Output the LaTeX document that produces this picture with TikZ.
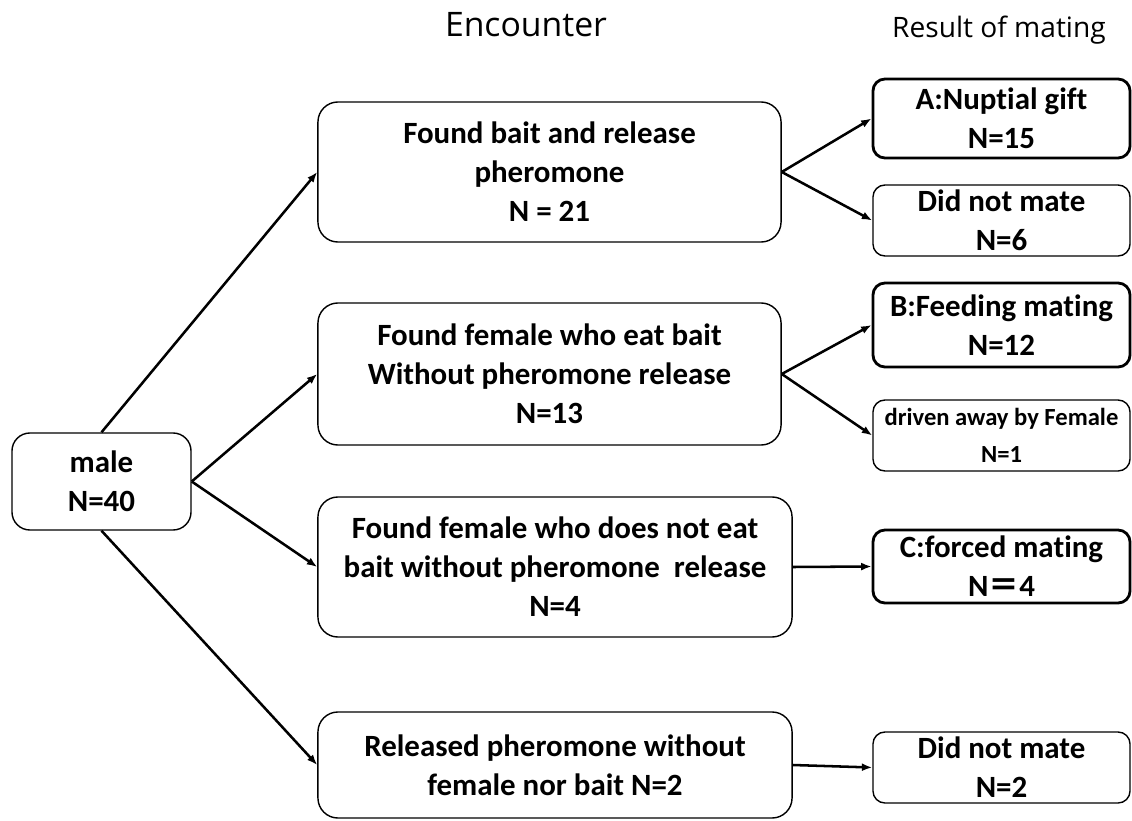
\documentclass[tikz,border=0pt]{standalone}
\usepackage{fontspec}
\setmainfont{Carlito}[RawFeature={-liga;-clig;-calt;-dlig}]
\newfontfamily\titlefont{Open Sans}
\newfontfamily\cjk{Noto Sans CJK SC}
\usetikzlibrary{arrows.meta}

\newcommand{\boxfont}{\fontsize{22}{27.7}\selectfont\bfseries}

\begin{document}
\begin{tikzpicture}[x=0.025cm, y=-0.025cm,
    encbox/.style={draw, line width=1pt, rounded corners=0.5cm, align=center,
      inner sep=0pt, font=\boxfont, minimum height=#1},
    resbox/.style={draw, line width=1pt, rounded corners=0.3cm, align=center,
      inner sep=0pt, font=\boxfont, minimum width=6.425cm, minimum height=#1},
    keybox/.style={resbox=#1, line width=2pt},
    link/.style={line width=1.8pt, -{Latex[length=2.6mm,width=2mm]}}]
    \useasboundingbox (0,0) rectangle (1132,821);

    \node[font=\titlefont\fontsize{24}{28}\selectfont, anchor=base] (enc) at (526,37) {Encounter};
    \node[font=\titlefont\fontsize{20}{24}\selectfont, anchor=base] (res) at (999,38) {Result of mating};

    \node[encbox=2.425cm, minimum width=4.475cm, rounded corners=0.45cm] (male) at (101.5,481.5) {male\\N=40};

    \node[encbox=3.5cm, minimum width=11.575cm] (bait) at (549.5,172) {Found bait and release\\pheromone\\N = 21};
    \node[encbox=3.55cm, minimum width=11.575cm] (eat) at (549.5,374) {Found female who eat bait\\Without pheromone release\\N=13};
    \node[encbox=3.5cm, minimum width=11.85cm] (noeat) at (555,567) {Found female who does not eat\\bait without pheromone\ \ release\\N=4};
    \node[encbox=2.65cm, minimum width=11.85cm] (alone) at (555,765) {Released pheromone without\\female nor bait N=2};

    \node[keybox=1.975cm] (gift) at (1001.5,118.5) {A:Nuptial gift\\N=15};
    \node[resbox=1.775cm] (nomate) at (1001.5,220.5) {Did not mate\\N=6};
    \node[keybox=2.1cm] (feed) at (1001.5,325) {B:Feeding mating\\N=12};
    \node[resbox=1.775cm, font=\fontsize{17.5}{26}\selectfont\bfseries] (driven) at (1001.5,435.5) {driven away by Female\\N=1};
    \node[keybox=1.825cm] (forced) at (1001.5,566.5) {C:forced mating\\N{\cjk\bfseries ＝}4};
    \node[resbox=1.775cm] (nomatetwo) at (1001.5,767.5) {Did not mate\\N=2};

    \draw[link] (male.north) -- (bait.west);
    \draw[link] (male.east) -- (eat.west);
    \draw[link] (male.east) -- (noeat.west);
    \draw[link] (male.south) -- (alone.west);

    \draw[link] (bait.east) -- (gift.west);
    \draw[link] (bait.east) -- (nomate.west);
    \draw[link] (eat.east) -- (feed.west);
    \draw[link] (eat.east) -- (driven.west);
    \draw[link] (noeat.east) -- (forced.west);
    \draw[link] (alone.east) -- (nomatetwo.west);
  \end{tikzpicture}
\end{document}
